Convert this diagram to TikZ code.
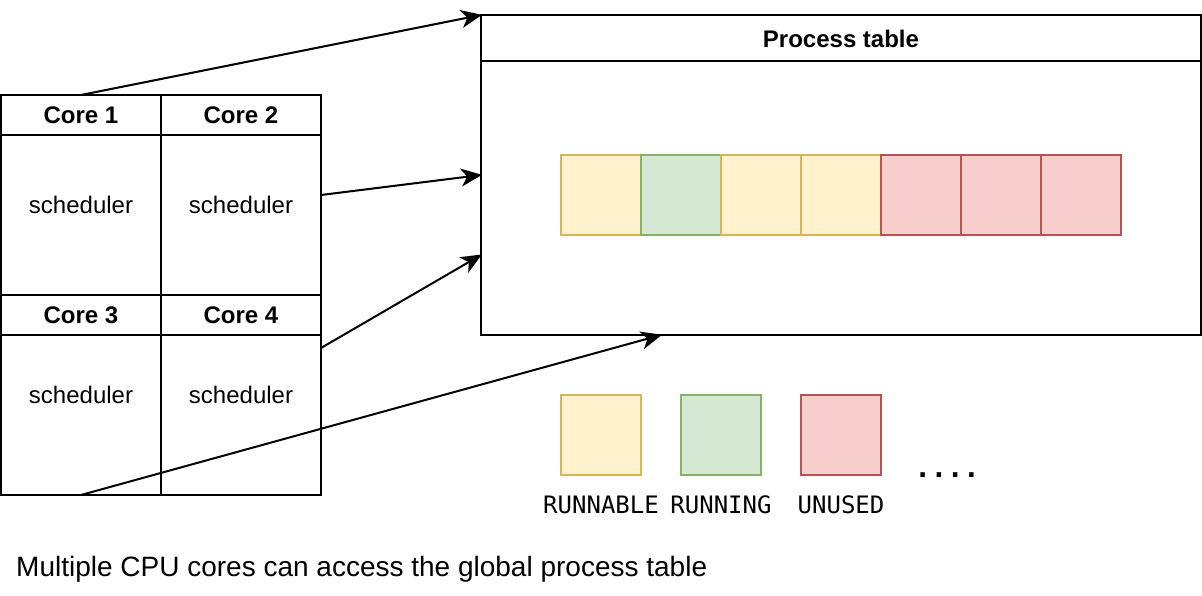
\documentclass[tikz,border=0pt]{standalone}
\usepackage{fontspec}
\setmainfont{Liberation Sans}
\newfontfamily\monofont{DejaVu Sans Mono}
\usetikzlibrary{arrows.meta}
\definecolor{yfill}{HTML}{FFF2CC}\definecolor{ydraw}{HTML}{D6B656}
\definecolor{gfill}{HTML}{D5E8D4}\definecolor{gdraw}{HTML}{82B366}
\definecolor{rfill}{HTML}{F8CECC}\definecolor{rdraw}{HTML}{B85450}
\tikzset{
  box/.style={draw=black, line width=2pt, minimum width=#1, inner sep=0pt, outer sep=0pt},
  cell/.style={line width=2pt, minimum width=80pt, minimum height=80pt, inner sep=0pt, outer sep=0pt, anchor=north west},
  yc/.style={cell, fill=yfill, draw=ydraw},
  gc/.style={cell, fill=gfill, draw=gdraw},
  rc/.style={cell, fill=rfill, draw=rdraw},
  txt/.style={font=\fontsize{24}{28}\selectfont, inner sep=0pt, anchor=base},
  btxt/.style={font=\fontsize{24}{28}\selectfont\bfseries, inner sep=0pt, anchor=base},
  mtxt/.style={font=\fontsize{24}{28}\selectfont\monofont, inner sep=0pt, anchor=base},
  arr/.style={line width=2pt, -{Stealth[length=21pt, width=18pt, inset=6pt]}, shorten >=-1pt},
}
\begin{document}
\begin{tikzpicture}[x=1pt, y=-1pt]
\useasboundingbox (0,0) rectangle (1202,596);
% cores
\node[box, minimum width=160pt, minimum height=40pt, anchor=north west] (h1) at (1,95) {};
\node[box, minimum width=160pt, minimum height=40pt, anchor=north west] (h2) at (161,95) {};
\node[box, minimum width=160pt, minimum height=160pt, anchor=north west] (b1) at (1,135) {};
\node[box, minimum width=160pt, minimum height=160pt, anchor=north west] (b2) at (161,135) {};
\node[box, minimum width=160pt, minimum height=40pt, anchor=north west] (h3) at (1,295) {};
\node[box, minimum width=160pt, minimum height=40pt, anchor=north west] (h4) at (161,295) {};
\node[box, minimum width=160pt, minimum height=160pt, anchor=north west] (b3) at (1,335) {};
\node[box, minimum width=160pt, minimum height=160pt, anchor=north west] (b4) at (161,335) {};
\node[btxt] (t1) at (81,123.5) {Core 1};
\node[btxt] (t2) at (241,123.5) {Core 2};
\node[btxt] (t3) at (81,323.5) {Core 3};
\node[btxt] (t4) at (241,323.5) {Core 4};
\node[txt] (s1) at (81,213.5) {scheduler};
\node[txt] (s2) at (241,213.5) {scheduler};
\node[txt] (s3) at (81,403.5) {scheduler};
\node[txt] (s4) at (241,403.5) {scheduler};
% process table
\node[box, minimum width=720pt, minimum height=46pt, anchor=north west] (ph) at (481,15) {};
\node[box, minimum width=720pt, minimum height=274pt, anchor=north west] (pb) at (481,61) {};
\node[btxt] (pt) at (841,47.5) {Process table};
\node[yc] (c1) at (561,155) {};
\node[gc] (c2) at (641,155) {};
\node[yc] (c3) at (721,155) {};
\node[yc] (c4) at (801,155) {};
\node[rc] (c5) at (881,155) {};
\node[rc] (c6) at (961,155) {};
\node[rc] (c7) at (1041,155) {};
% legend
\node[yc] (l1) at (561,395) {};
\node[gc] (l2) at (681,395) {};
\node[rc] (l3) at (801,395) {};
\node[mtxt] (lt1) at (601,513) {RUNNABLE};
\node[mtxt] (lt2) at (721,513) {RUNNING};
\node[mtxt] (lt3) at (841,513) {UNUSED};
\node[font=\fontsize{27}{30}\selectfont\monofont\bfseries, inner sep=0pt, anchor=base] (dots) at (947,477) {....};
% caption
\node[font=\fontsize{28}{32}\selectfont, inner sep=0pt, anchor=base west] (cap) at (16,576) {Multiple CPU cores can access the global process table};
% arrows
\coordinate (a2s) at (321,195);
\coordinate (a2e) at (481,175);
\coordinate (a3s) at (321,348);
\coordinate (a3e) at (481,255);
\coordinate (a4e) at (661,335);
\draw[arr] (h1.north) -- (ph.north west);
\draw[arr] (a2s) -- (a2e);
\draw[arr] (a3s) -- (a3e);
\draw[arr] (b3.south) -- (a4e);
\end{tikzpicture}
\end{document}
